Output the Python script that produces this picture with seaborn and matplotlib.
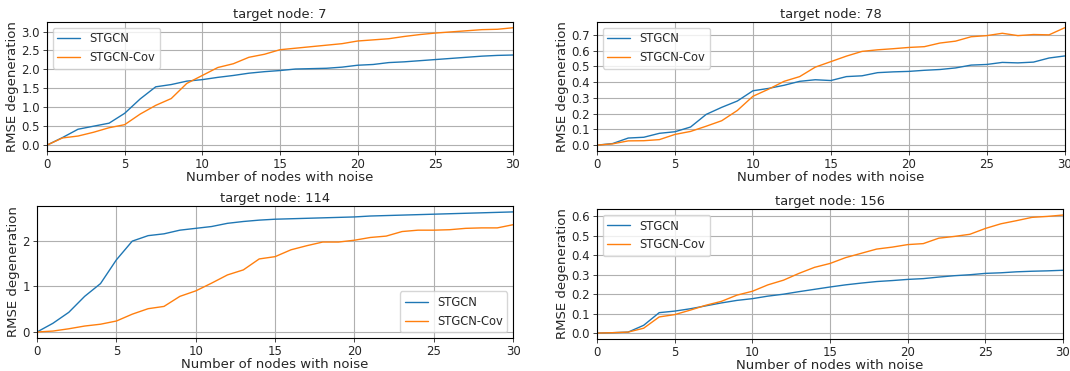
import matplotlib
matplotlib.use('Agg')
import matplotlib.pyplot as plt
import seaborn as sns
import pandas as pd

n_noise = list(range(31))

node7_stgcn = [0, 0.2, 0.42, 0.5, 0.58, 0.84, 1.22, 1.54, 1.6, 1.69, 1.73, 1.79, 1.84, 1.9, 1.94, 1.97,
               2.01, 2.02, 2.03, 2.06, 2.11, 2.13, 2.18, 2.2, 2.23, 2.26, 2.29, 2.32, 2.35, 2.37, 2.38]
node7_cov = [0, 0.19, 0.24, 0.34, 0.46, 0.54, 0.82, 1.05, 1.23, 1.63, 1.84, 2.05, 2.15, 2.32, 2.4, 2.52,
             2.56, 2.6, 2.64, 2.68, 2.75, 2.78, 2.81, 2.87, 2.92, 2.96, 2.99, 3.02, 3.05, 3.06, 3.1]

node78_stgcn = [0, 0.01, 0.045, 0.05, 0.075, 0.085, 0.115, 0.195, 0.24, 0.28, 0.345, 0.36, 0.38, 0.405,
                0.415, 0.41, 0.435, 0.44, 0.46, 0.465, 0.468, 0.475, 0.48, 0.49, 0.508, 0.512, 0.525,
                0.522, 0.527, 0.553, 0.566]
node78_cov = [0, 0.008, 0.027, 0.028, 0.035, 0.068, 0.087, 0.12, 0.155, 0.22, 0.31, 0.355, 0.405, 0.435,
              0.495, 0.53, 0.565, 0.595, 0.605, 0.612, 0.62, 0.625, 0.648, 0.66, 0.688, 0.695, 0.71,
              0.695, 0.702, 0.7, 0.745]

node114_stgcn = [0, 0.19, 0.43, 0.78, 1.06, 1.58, 1.99, 2.11, 2.15, 2.23, 2.27, 2.31, 2.38, 2.42, 2.45,
                 2.47, 2.48, 2.49, 2.5, 2.51, 2.52, 2.54, 2.55, 2.56, 2.57, 2.58, 2.59, 2.6, 2.61, 2.62, 2.63]
node114_cov = [0, 0.02, 0.07, 0.13, 0.17, 0.24, 0.39, 0.51, 0.56, 0.78, 0.9, 1.07, 1.25, 1.36, 1.6, 1.65,
               1.8, 1.89, 1.97, 1.97, 2.01, 2.07, 2.1, 2.2, 2.23, 2.23, 2.24, 2.27, 2.28, 2.28, 2.35]

node156_stgcn = [0, 0.002, 0.005, 0.04, 0.105, 0.113, 0.125, 0.14, 0.155, 0.168, 0.177, 0.19, 0.2, 0.213,
                 0.225, 0.237, 0.248, 0.257, 0.265, 0.27, 0.276, 0.28, 0.288, 0.295, 0.3, 0.307, 0.31,
                 0.315, 0.318, 0.32, 0.323]
node156_cov = [0, 0.002, 0.005, 0.025, 0.083, 0.095, 0.118, 0.143, 0.163, 0.195, 0.215, 0.248, 0.272,
               0.307, 0.338, 0.358, 0.388, 0.41, 0.432, 0.442, 0.455, 0.46, 0.488, 0.497, 0.508, 0.538,
               0.562, 0.578, 0.595, 0.6, 0.607]

# node, series, axes rect (fig fraction), legend loc, y ticks, tick format
panels = [
    (7, node7_stgcn, node7_cov, [0.0439, 0.593, 0.4355, 0.348], 'upper left',
     [0, 0.5, 1.0, 1.5, 2.0, 2.5, 3.0], '{:.1f}'),
    (78, node78_stgcn, node78_cov, [0.558, 0.593, 0.437, 0.348], 'upper left',
     [0, 0.1, 0.2, 0.3, 0.4, 0.5, 0.6, 0.7], '{:.1f}'),
    (114, node114_stgcn, node114_cov, [0.0346, 0.089, 0.445, 0.356], 'lower right',
     [0, 1, 2], '{:.0f}'),
    (156, node156_stgcn, node156_cov, [0.558, 0.0863, 0.4355, 0.350], 'upper left',
     [0, 0.1, 0.2, 0.3, 0.4, 0.5, 0.6], '{:.1f}'),
]

sns.set_theme(style='ticks')
plt.rcParams['font.family'] = ['DejaVu Sans']

fig = plt.figure(figsize=(10.70, 3.71), dpi=100)

for node, stgcn, cov, rect, loc, yticks, fmt in panels:
    ax = fig.add_axes(rect)
    df = pd.DataFrame({
        'x': n_noise * 2,
        'y': stgcn + cov,
        'model': ['STGCN'] * len(n_noise) + ['STGCN-Cov'] * len(n_noise),
    })
    sns.lineplot(data=df, x='x', y='y', hue='model', palette=['#1f77b4', '#ff7f0e'],
                 linewidth=1.0, ax=ax)
    ax.set_xlim(0, 30)
    ax.margins(y=0.05)
    ax.set_xticks([0, 5, 10, 15, 20, 25, 30])
    ax.set_yticks(yticks)
    ax.set_yticklabels([fmt.format(v) for v in yticks])
    ax.tick_params(labelsize=8.5, length=3, width=0.6, pad=2)
    ax.grid(True, color='#b0b0b0', linewidth=0.8)
    for s in ax.spines.values():
        s.set_color('black')
        s.set_linewidth(0.8)
    ax.set_title(f'target node: {node}', fontsize=9.4, pad=3)
    ax.set_xlabel('Number of nodes with noise', fontsize=9.5, labelpad=0)
    ax.set_ylabel('RMSE degeneration', fontsize=9.5, labelpad=2)
    leg = ax.legend(loc=loc, fontsize=8.3, frameon=True, fancybox=True)
    leg.get_frame().set_edgecolor('#cccccc')

fig.savefig('out.png', dpi=100)
